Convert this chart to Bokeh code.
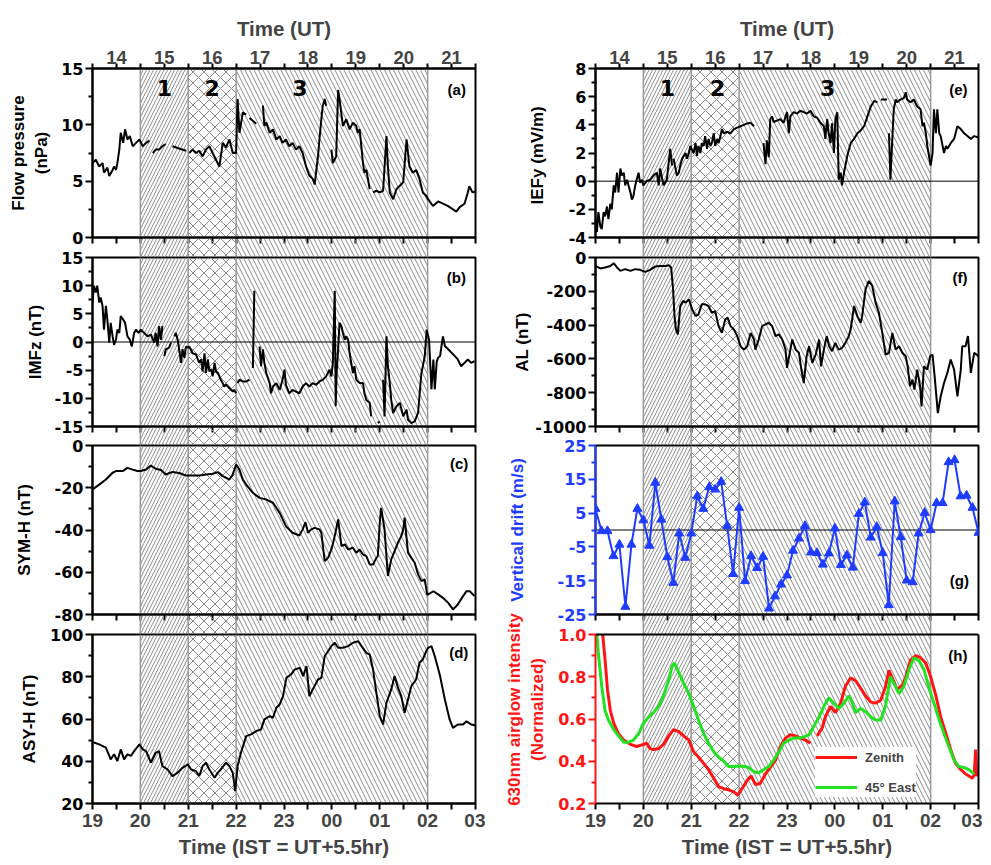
from bokeh.plotting import figure
from bokeh.models import (BoxAnnotation, Span, Label, FixedTicker, LinearAxis,
                          Range1d, Legend, LegendItem)
from bokeh.layouts import column, row
from bokeh.embed import file_html
from bokeh.resources import INLINE

nan = float("nan")
FONT = "Liberation Sans"
TFONT = "DejaVu Sans"
BLUE = "#1e3cff"
RED = "#ff1414"
GREEN = "#22e022"
HATCH = "#8a8a8a"
EDGE = "#999999"

# ---------------- axis ticks / labels ----------------
ist_ticks = [19, 20, 21, 22, 23, 24, 25, 26, 27]
ist_labels = ["19", "20", "21", "22", "23", "00", "01", "02", "03"]
ist_minor = [19.5, 20.5, 21.5, 22.5, 23.5, 24.5, 25.5, 26.5]
ut_ticks = [19.5, 20.5, 21.5, 22.5, 23.5, 24.5, 25.5, 26.5]
ut_labels = ["14", "15", "16", "17", "18", "19", "20", "21"]
h_ticks = [0.2, 0.4, 0.6, 0.8, 1.0]
h_labels = ["0.2", "0.4", "0.6", "0.8", "1.0"]

# shaded intervals (IST hours)
region_start = [20, 21, 22]
region_end = [21, 22, 26]
region_name = ["1", "2", "3"]
region_hatch = ["/", "x", "\\"]
region_scale = [7, 11, 9]
region_lines = [20, 21, 22, 26]

# ---------------- data (IST decimal hours, >24 after midnight) ----------------
pdyn = [(19.00,6.6),(19.07,6.9),(19.14,6.3),(19.21,6.6),(19.24,5.75),(19.31,6.2),(19.35,5.45),(19.42,6.0),
        (19.45,6.3),(19.49,6.0),(19.52,6.6),(19.56,7.8),(19.59,9.3),(19.64,8.4),(19.68,9.6),(19.73,8.7),
        (19.78,9.0),(19.84,8.1),(19.91,8.4),(19.98,8.7),(20.05,8.1),(20.12,8.4),(20.19,8.6),(20.22,nan),
        (20.26,7.5),(20.32,7.8),(20.39,7.8),(20.46,8.1),(20.53,8.3),(20.60,nan),(20.67,8.1),(20.81,7.9),
        (20.95,7.7),(20.98,nan),(21.02,7.5),(21.09,7.8),(21.16,7.5),(21.23,7.7),(21.30,7.2),(21.37,7.8),
        (21.44,8.1),(21.51,7.5),(21.58,6.9),(21.65,6.3),(21.68,7.2),(21.72,8.4),(21.79,8.0),(21.86,8.7),
        (21.93,7.5),(22.00,7.5),(22.03,12.3),(22.07,9.3),(22.14,11.1),(22.21,10.9),(22.24,nan),(22.28,10.6),
        (22.42,10.1),(22.49,nan),(22.56,11.7),(22.59,9.9),(22.63,10.2),(22.70,9.3),(22.77,9.6),(22.84,8.7),
        (22.91,9.0),(22.97,8.4),(23.04,8.7),(23.11,8.1),(23.18,8.4),(23.25,7.8),(23.32,8.1),(23.39,7.5),
        (23.46,6.3),(23.53,5.5),(23.60,5.2),(23.64,4.7),(23.67,5.75),(23.71,7.2),(23.74,8.7),(23.78,10.5),
        (23.81,11.7),(23.85,12.3),(23.88,11.7),(23.93,nan),(23.99,7.8),(24.02,6.6),(24.09,7.2),(24.13,13.1),
        (24.16,12.3),(24.23,9.9),(24.30,10.5),(24.37,9.6),(24.44,10.2),(24.51,9.9),(24.54,9.3),(24.58,9.6),
        (24.65,6.6),(24.68,5.75),(24.72,6.0),(24.79,4.3),(24.82,nan),(24.86,4.0),(24.93,4.15),(25.00,4.0),
        (25.07,4.15),(25.14,9.0),(25.17,6.3),(25.21,4.0),(25.28,3.4),(25.35,4.3),(25.42,4.6),(25.49,4.9),
        (25.56,8.7),(25.59,7.5),(25.62,6.3),(25.69,5.75),(25.76,6.0),(25.83,5.2),(25.90,4.0),(25.97,3.7),
        (26.01,3.4),(26.11,2.8),(26.22,3.2),(26.32,3.0),(26.42,2.8),(26.53,2.5),(26.60,2.3),(26.67,2.7),
        (26.77,3.0),(26.84,4.0),(26.87,4.55),(26.94,4.0),(27.00,4.1)]

imfz = [(19.00,7.0),(19.03,10.0),(19.07,8.8),(19.10,10.0),(19.14,7.0),(19.17,7.9),(19.21,6.4),(19.24,2.2),
        (19.28,6.4),(19.31,4.0),(19.35,-0.1),(19.38,3.4),(19.42,1.0),(19.45,-0.5),(19.49,0.4),(19.52,2.2),
        (19.56,1.6),(19.59,4.6),(19.64,4.0),(19.68,3.4),(19.73,1.0),(19.78,0.4),(19.82,-0.8),(19.87,1.6),
        (19.91,2.2),(19.96,1.6),(20.01,2.2),(20.08,1.6),(20.15,1.0),(20.22,1.3),(20.29,-0.1),(20.32,1.6),
        (20.36,-0.8),(20.39,2.8),(20.43,0.4),(20.46,2.8),(20.48,nan),(20.50,-2.5),(20.53,-1.3),(20.60,-1.0),
        (20.64,-0.1),(20.67,nan),(20.71,1.0),(20.74,1.6),(20.78,0.4),(20.85,-3.7),(20.88,-1.3),(20.92,-2.8),
        (20.95,-0.8),(20.99,-1.0),(21.02,-0.8),(21.09,-2.0),(21.16,-2.2),(21.23,-3.7),(21.27,-3.1),(21.30,-5.2),
        (21.34,-2.0),(21.37,-5.5),(21.41,-3.1),(21.44,-5.2),(21.48,-4.9),(21.51,-6.1),(21.55,-3.7),(21.58,-5.2),
        (21.62,-5.5),(21.65,-6.1),(21.68,-6.7),(21.72,-7.3),(21.75,-7.9),(21.79,-7.6),(21.86,-8.2),(21.93,-8.8),
        (21.96,-8.5),(22.00,-9.1),(22.02,nan),(22.03,-7.3),(22.07,-6.7),(22.14,-7.0),(22.21,-7.0),(22.28,-6.7),
        (22.31,nan),(22.35,-4.6),(22.38,9.1),(22.40,nan),(22.49,-0.8),(22.52,-4.3),(22.56,-1.3),(22.59,-3.7),
        (22.63,-5.5),(22.70,-7.3),(22.73,-9.1),(22.77,-7.9),(22.84,-7.3),(22.91,-8.5),(22.97,-6.7),(23.01,-4.9),
        (23.04,-7.6),(23.11,-9.1),(23.18,-8.5),(23.25,-8.8),(23.32,-9.1),(23.39,-7.9),(23.46,-7.3),(23.53,-7.9),
        (23.60,-7.3),(23.67,-7.6),(23.74,-7.0),(23.81,-6.7),(23.88,-6.1),(23.95,-4.9),(23.99,-6.1),(24.02,-3.7),
        (24.06,9.1),(24.08,-11.4),(24.10,-5.5),(24.13,-1.3),(24.16,3.4),(24.20,2.8),(24.23,1.6),(24.27,0.4),
        (24.30,1.0),(24.34,0.4),(24.37,-2.0),(24.44,-5.5),(24.47,-4.3),(24.51,-6.7),(24.58,-7.3),(24.65,-7.3),
        (24.68,-9.1),(24.72,-10.3),(24.79,-10.8),(24.82,-13.2),(24.88,nan),(24.96,-14.4),(25.00,-14.1),
        (25.04,nan),(25.07,-6.7),(25.10,-13.2),(25.14,1.0),(25.17,-4.3),(25.21,-7.3),(25.24,-10.3),(25.28,-12.6),
        (25.35,-11.4),(25.42,-10.8),(25.49,-13.2),(25.56,-12.0),(25.59,-13.8),(25.66,-14.4),(25.73,-14.1),
        (25.80,-12.6),(25.87,-5.5),(25.90,-4.3),(25.94,-2.5),(25.98,2.2),(26.03,0.4),(26.08,-8.4),(26.12,-3.1),
        (26.15,-8.4),(26.19,-3.5),(26.22,-2.8),(26.26,-2.5),(26.29,-0.7),(26.32,1.0),(26.36,-0.7),(26.43,-1.3),
        (26.50,-1.9),(26.57,-2.5),(26.63,-3.1),(26.70,-4.3),(26.77,-3.7),(26.84,-3.1),(26.91,-3.7),(26.98,-3.4)]

symh = [(19.00,-20.8),(19.14,-18.5),(19.28,-16.1),(19.42,-12.9),(19.49,-12.1),(19.63,-12.1),(19.73,-10.6),
        (19.84,-11.4),(19.94,-12.1),(20.01,-12.1),(20.12,-11.4),(20.22,-9.5),(20.32,-11.0),(20.43,-11.6),
        (20.53,-13.7),(20.67,-12.5),(20.81,-13.0),(20.95,-14.2),(21.09,-14.2),(21.23,-14.2),(21.37,-13.7),
        (21.51,-13.4),(21.62,-12.6),(21.72,-14.5),(21.86,-16.1),(21.93,-13.7),(22.00,-9.0),(22.07,-11.4),
        (22.14,-16.1),(22.21,-18.5),(22.35,-22.4),(22.49,-24.8),(22.63,-25.6),(22.77,-27.1),(22.91,-31.9),
        (23.04,-38.2),(23.18,-41.3),(23.32,-42.6),(23.39,-39.7),(23.45,-36.3),(23.50,-41.3),(23.57,-39.7),
        (23.64,-39.0),(23.74,-39.7),(23.78,-41.3),(23.85,-54.7),(23.92,-53.2),(23.99,-49.2),(24.06,-42.9),
        (24.13,-35.0),(24.20,-47.6),(24.27,-46.8),(24.34,-49.2),(24.44,-48.4),(24.51,-50.8),(24.58,-49.2),
        (24.65,-51.6),(24.72,-52.4),(24.79,-56.3),(24.86,-56.3),(24.93,-53.2),(24.96,-52.4),(25.00,-36.6),
        (25.03,-29.5),(25.10,-39.7),(25.14,-52.4),(25.17,-61.8),(25.24,-53.9),(25.31,-50.0),(25.38,-46.0),
        (25.45,-42.9),(25.49,-39.7),(25.52,-34.2),(25.59,-50.8),(25.66,-53.2),(25.73,-55.5),(25.80,-61.0),
        (25.87,-64.2),(25.94,-63.4),(25.99,-70.5),(26.01,-70.5),(26.12,-69.0),(26.22,-70.5),(26.32,-72.1),
        (26.43,-74.5),(26.53,-77.6),(26.63,-75.3),(26.74,-71.3),(26.81,-69.0),(26.88,-69.0),(26.98,-71.3)]

asyh = [(19.00,49.1),(19.14,48.0),(19.28,46.4),(19.38,40.9),(19.45,43.3),(19.52,40.1),(19.59,45.6),
        (19.66,40.9),(19.73,43.3),(19.80,42.5),(19.87,44.8),(19.98,48.0),(20.05,45.6),(20.12,44.8),
        (20.22,39.3),(20.32,44.0),(20.39,44.8),(20.46,37.7),(20.57,36.1),(20.67,33.0),(20.78,34.6),
        (20.88,36.9),(20.99,38.5),(21.06,36.1),(21.16,35.3),(21.23,33.0),(21.30,37.7),(21.37,39.3),
        (21.44,36.1),(21.55,32.2),(21.62,34.6),(21.68,36.1),(21.79,39.3),(21.86,37.7),(21.93,34.5),
        (21.98,25.9),(22.03,37.7),(22.10,44.0),(22.21,51.9),(22.31,52.7),(22.42,54.3),(22.52,55.0),
        (22.59,59.8),(22.70,61.4),(22.77,60.6),(22.84,65.3),(22.91,66.9),(22.98,70.8),(23.05,79.5),
        (23.15,81.1),(23.22,83.4),(23.33,84.2),(23.40,80.3),(23.47,85.0),(23.53,70.8),(23.60,74.0),
        (23.71,78.7),(23.78,79.5),(23.85,89.7),(23.92,92.1),(23.99,94.5),(24.06,96.1),(24.13,93.7),
        (24.23,93.7),(24.34,94.5),(24.44,96.1),(24.55,96.8),(24.62,94.5),(24.72,91.3),(24.79,90.5),
        (24.86,83.4),(24.93,72.4),(25.00,61.4),(25.07,57.4),(25.14,67.7),(25.24,74.0),(25.31,80.3),
        (25.38,74.8),(25.45,70.8),(25.52,62.9),(25.59,69.2),(25.66,75.6),(25.76,78.7),(25.83,86.6),
        (25.90,88.2),(25.97,92.1),(26.01,93.7),(26.08,94.5),(26.15,89.7),(26.26,80.3),(26.36,69.2),
        (26.46,59.8),(26.53,55.8),(26.63,57.4),(26.74,57.4),(26.81,58.9),(26.91,57.4),(27.00,56.9)]

iefy = [(19.00,-2.7),(19.03,-3.6),(19.06,-2.2),(19.10,-3.2),(19.13,-3.4),(19.17,-2.2),(19.20,-2.5),(19.24,-1.8),
        (19.27,-2.7),(19.31,-1.6),(19.34,-2.0),(19.38,-0.3),(19.41,-0.8),(19.45,0.6),(19.48,-0.8),(19.52,0.9),
        (19.55,0.4),(19.59,0.6),(19.62,-0.3),(19.66,0.1),(19.69,-0.3),(19.73,-0.8),(19.76,-1.3),(19.79,-1.1),
        (19.83,-0.3),(19.86,0.1),(19.90,0.6),(19.93,-0.1),(19.97,0.1),(20.00,-0.3),(20.07,0.0),(20.14,0.1),
        (20.21,0.4),(20.28,0.6),(20.32,-0.3),(20.35,0.9),(20.42,-0.3),(20.49,0.1),(20.56,2.3),(20.60,1.1),
        (20.61,nan),(20.63,1.6),(20.70,0.4),(20.74,0.6),(20.77,1.1),(20.81,1.6),(20.88,2.0),(20.91,1.6),
        (20.95,2.0),(20.98,2.5),(21.05,2.0),(21.09,2.7),(21.12,1.8),(21.15,2.5),(21.19,2.0),(21.22,2.7),
        (21.26,2.5),(21.29,3.2),(21.33,2.3),(21.36,3.0),(21.40,2.5),(21.43,2.7),(21.47,3.4),(21.50,2.5),
        (21.54,3.0),(21.57,2.7),(21.61,3.2),(21.64,3.7),(21.68,3.4),(21.75,3.5),(21.82,3.4),(21.89,3.7),
        (21.96,3.8),(22.03,3.9),(22.10,4.0),(22.17,4.1),(22.24,4.15),(22.31,3.9),(22.35,nan),(22.51,2.7),
        (22.55,1.2),(22.58,2.9),(22.62,1.7),(22.65,4.4),(22.69,4.6),(22.72,4.2),(22.79,4.3),(22.86,4.4),
        (22.93,4.15),(23.00,4.9),(23.04,3.4),(23.07,4.6),(23.14,4.9),(23.21,4.8),(23.28,5.0),(23.35,4.9),
        (23.42,4.8),(23.49,5.0),(23.56,4.6),(23.63,4.5),(23.70,4.15),(23.77,3.9),(23.80,3.0),(23.84,4.4),
        (23.87,3.4),(23.91,2.7),(23.94,4.1),(23.98,2.0),(24.01,4.4),(24.05,4.9),(24.08,0.1),(24.12,0.6),
        (24.15,-0.3),(24.19,0.6),(24.22,1.1),(24.26,1.8),(24.29,2.2),(24.33,2.7),(24.40,3.0),(24.47,3.4),
        (24.54,3.6),(24.61,3.9),(24.68,4.6),(24.75,5.3),(24.82,5.7),(24.89,5.6),(24.92,nan),(24.96,5.8),
        (25.09,5.8),(25.11,nan),(25.13,3.4),(25.16,0.1),(25.20,3.0),(25.23,5.1),(25.27,5.8),(25.30,5.6),
        (25.37,5.8),(25.44,5.9),(25.48,6.3),(25.51,5.8),(25.58,5.6),(25.65,5.8),(25.72,5.3),(25.79,5.1),
        (25.83,3.9),(25.86,4.15),(25.90,3.4),(25.93,2.5),(26.00,1.1),(26.04,2.0),(26.07,5.1),(26.11,3.4),
        (26.14,5.1),(26.18,3.4),(26.21,3.2),(26.28,2.0),(26.32,2.5),(26.35,2.3),(26.42,2.7),(26.49,3.0),
        (26.56,3.9),(26.63,3.7),(26.70,3.4),(26.77,3.2),(26.84,3.0),(26.91,3.2),(27.00,3.1)]

al = [(19.00,-50),(19.10,-65),(19.20,-59),(19.31,-50),(19.38,-34),(19.45,-59),(19.52,-79),(19.62,-69),
      (19.73,-79),(19.83,-69),(19.93,-73),(20.04,-85),(20.14,-73),(20.25,-53),(20.35,-50),(20.46,-50),
      (20.53,-46),(20.58,-59),(20.62,-188),(20.65,-347),(20.68,-426),(20.72,-455),(20.74,-386),(20.77,-287),
      (20.83,-257),(20.88,-267),(20.95,-248),(21.02,-307),(21.09,-347),(21.15,-337),(21.22,-277),(21.29,-277),
      (21.36,-287),(21.43,-327),(21.50,-317),(21.57,-406),(21.64,-446),(21.71,-366),(21.76,-356),(21.82,-406),
      (21.89,-426),(21.96,-465),(22.03,-525),(22.10,-545),(22.17,-525),(22.24,-446),(22.31,-485),(22.34,-545),
      (22.41,-485),(22.48,-406),(22.55,-396),(22.62,-386),(22.69,-406),(22.76,-465),(22.83,-455),(22.90,-485),
      (22.97,-545),(23.00,-653),(23.07,-545),(23.11,-485),(23.18,-545),(23.25,-564),(23.30,-663),(23.35,-743),
      (23.41,-584),(23.46,-525),(23.53,-624),(23.60,-574),(23.67,-485),(23.71,-644),(23.77,-545),(23.83,-465),
      (23.88,-525),(23.94,-554),(24.01,-505),(24.08,-545),(24.15,-535),(24.22,-505),(24.29,-465),(24.33,-426),
      (24.40,-287),(24.47,-347),(24.54,-386),(24.57,-347),(24.64,-188),(24.71,-139),(24.78,-168),(24.85,-267),
      (24.92,-327),(24.99,-446),(25.06,-574),(25.13,-564),(25.20,-446),(25.27,-545),(25.34,-525),(25.41,-564),
      (25.48,-584),(25.52,-644),(25.57,-762),(25.62,-723),(25.66,-782),(25.72,-663),(25.78,-762),(25.81,-881),
      (25.86,-644),(25.93,-663),(25.99,-584),(26.04,-574),(26.09,-723),(26.15,-921),(26.21,-822),(26.28,-743),
      (26.35,-683),(26.42,-604),(26.49,-663),(26.56,-822),(26.63,-663),(26.66,-525),(26.73,-525),(26.78,-465),
      (26.84,-683),(26.91,-564),(27.00,-584)]

drift_t = [19.000, 19.125, 19.250, 19.375, 19.500, 19.625, 19.750, 19.875, 20.000, 20.125, 20.250,
           20.375, 20.500, 20.625, 20.750, 20.875, 21.000, 21.125, 21.250, 21.375, 21.500, 21.625,
           21.750, 21.875, 22.000, 22.125, 22.250, 22.375, 22.500, 22.625, 22.750, 22.875, 23.000,
           23.125, 23.250, 23.375, 23.500, 23.625, 23.750, 23.875, 24.000, 24.125, 24.250, 24.375,
           24.500, 24.625, 24.750, 24.875, 25.000, 25.125, 25.250, 25.375, 25.500, 25.625, 25.750,
           25.875, 26.000, 26.125, 26.250, 26.375, 26.500, 26.625, 26.750, 26.875, 27.000]
drift_v = [6.3, -0.3, -0.3, -7.7, -4.3, -22.7, -4.3, 6.3, 2.9, -4.6, 14.0, 3.1, -8.0, -15.6, -1.0,
           -8.2, -1.0, 10.0, 6.3, 12.7, 12.0, 14.3, 1.2, -13.0, 6.6, -15.1, -7.7, -11.2, -7.9, -23.2,
           -19.6, -16.1, -13.4, -6.1, -2.5, 1.2, -6.6, -6.8, -10.2, -6.9, 0.5, -10.3, -7.5, -11.1, 4.8,
           8.2, -2.2, 0.9, -6.8, -22.2, 8.5, -2.1, -14.9, -15.4, -1.0, 5.1, 0.0, 8.0, 8.0, 20.1, 20.7,
           10.0, 10.2, 6.6, -0.8]

zenith = [(19.15,1.0),(19.20,0.88),(19.25,0.74),(19.31,0.64),(19.38,0.58),(19.48,0.53),(19.59,0.50),
          (19.73,0.48),(19.86,0.47),(20.00,0.48),(20.07,0.485),(20.14,0.46),(20.21,0.455),(20.32,0.46),
          (20.42,0.48),(20.53,0.52),(20.63,0.55),(20.74,0.54),(20.84,0.52),(20.95,0.50),(21.05,0.445),
          (21.15,0.42),(21.26,0.39),(21.36,0.36),(21.47,0.32),(21.57,0.28),(21.68,0.27),(21.78,0.265),
          (21.89,0.255),(21.97,0.24),(22.06,0.27),(22.17,0.31),(22.25,0.33),(22.34,0.29),(22.44,0.295),
          (22.55,0.34),(22.65,0.37),(22.76,0.405),(22.86,0.47),(22.97,0.51),(23.07,0.525),(23.18,0.52),
          (23.28,0.51),(23.39,0.50),(23.49,0.485),(23.56,nan),(23.63,0.52),(23.74,0.56),(23.80,0.61),
          (23.91,0.66),(24.01,0.63),(24.12,0.675),(24.22,0.755),(24.33,0.795),(24.44,0.78),(24.54,0.745),
          (24.64,0.71),(24.75,0.68),(24.85,0.675),(24.96,0.69),(25.06,0.755),(25.13,0.83),(25.20,0.795),
          (25.30,0.74),(25.41,0.76),(25.48,0.80),(25.58,0.88),(25.69,0.90),(25.79,0.89),(25.90,0.865),
          (26.00,0.80),(26.11,0.71),(26.21,0.61),(26.32,0.53),(26.42,0.455),(26.52,0.39),(26.63,0.36),
          (26.73,0.34),(26.80,0.33),(26.87,0.32),(26.91,0.335),(26.94,0.455),(26.96,0.33),(27.00,0.345)]

east45 = [(19.03,1.0),(19.06,0.91),(19.13,0.755),(19.20,0.64),(19.27,0.595),(19.38,0.55),(19.48,0.52),
          (19.59,0.49),(19.69,0.49),(19.79,0.50),(19.90,0.53),(20.00,0.58),(20.11,0.61),(20.21,0.63),
          (20.32,0.66),(20.42,0.71),(20.53,0.785),(20.60,0.85),(20.65,0.865),(20.74,0.82),(20.84,0.77),
          (20.95,0.72),(21.05,0.66),(21.15,0.595),(21.26,0.53),(21.36,0.485),(21.47,0.445),(21.57,0.42),
          (21.68,0.40),(21.78,0.375),(21.89,0.375),(21.99,0.378),(22.10,0.375),(22.20,0.37),(22.31,0.35),
          (22.41,0.345),(22.51,0.36),(22.62,0.375),(22.72,0.405),(22.83,0.445),(22.93,0.485),(23.04,0.50),
          (23.14,0.51),(23.25,0.51),(23.35,0.515),(23.46,0.525),(23.56,0.565),(23.67,0.61),(23.77,0.66),
          (23.87,0.70),(23.98,0.675),(24.08,0.65),(24.19,0.675),(24.29,0.71),(24.36,0.68),(24.43,0.63),
          (24.54,0.65),(24.64,0.635),(24.75,0.61),(24.85,0.595),(24.96,0.595),(25.06,0.665),(25.16,0.80),
          (25.23,0.77),(25.34,0.72),(25.44,0.755),(25.55,0.835),(25.65,0.89),(25.76,0.875),(25.86,0.835),
          (25.97,0.745),(26.07,0.675),(26.18,0.595),(26.28,0.53),(26.38,0.47),(26.49,0.405),(26.59,0.375),
          (26.70,0.37),(26.80,0.36),(26.91,0.34)]


def split(pairs):
    return [a for a, b in pairs], [b for a, b in pairs]


# ---------------- geometry ----------------
FW, FH = 383, 169
ML_L, MR_L = 92, 10
ML_R, MR_R = 110, 4
BT, BB = 12, 15          # transparent borders that overlap the gaps
TOP_B, BOT_B = 68, 60
XR = Range1d(19, 27)


def add_regions(p):
    for s, e, hp, sc in zip(region_start, region_end, region_hatch, region_scale):
        p.add_layout(BoxAnnotation(left=s, right=e, fill_alpha=0, line_alpha=0,
                                   hatch_pattern=hp, hatch_color=HATCH, hatch_scale=sc,
                                   hatch_weight=1, hatch_alpha=1, level="underlay"))
    for loc in region_lines:
        p.add_layout(Span(location=loc, dimension="height", line_color=EDGE,
                          line_width=1.5, level="underlay"))


def tick_style(ax, color="black"):
    ax.axis_line_width = 2
    ax.axis_line_color = color
    ax.major_tick_line_width = 2
    ax.minor_tick_line_width = 2
    ax.major_tick_line_color = color
    ax.minor_tick_line_color = color


def style_x(ax, kind):
    tick_style(ax)
    ax.major_tick_out = 6
    ax.major_tick_in = 0
    ax.minor_tick_out = 6
    ax.minor_tick_in = 0
    if kind == "plain":
        ax.ticker = FixedTicker(ticks=ist_ticks, minor_ticks=ist_minor)
        ax.major_label_text_font_size = "0px"
        ax.major_label_text_color = None
        ax.major_label_standoff = 0
        return
    ax.major_label_text_font = FONT
    ax.major_label_text_font_style = "bold"
    ax.axis_label_text_font = FONT
    ax.axis_label_text_font_style = "bold"
    ax.axis_label_text_font_size = "20.5px"
    if kind == "ut":
        ax.ticker = FixedTicker(ticks=ut_ticks, minor_ticks=ist_ticks)
        ax.major_label_overrides = dict(zip(ut_ticks, ut_labels))
        ax.axis_label = "Time (UT)"
        ax.major_label_text_font_size = "18.5px"
        ax.major_tick_out = 5
        ax.minor_tick_out = 5
        ax.major_label_standoff = 0
        ax.axis_label_standoff = 8
    else:
        ax.ticker = FixedTicker(ticks=ist_ticks, minor_ticks=ist_minor)
        ax.major_label_overrides = dict(zip(ist_ticks, ist_labels))
        ax.axis_label = "Time (IST = UT+5.5hr)"
        ax.major_label_text_font_size = "19px"
        ax.major_label_standoff = 4
        ax.axis_label_standoff = 5


def style_y(ax, ticks, minor, label, standoff, color="black", labels=None):
    tick_style(ax, color)
    ax.ticker = FixedTicker(ticks=ticks, minor_ticks=minor)
    if labels is None:
        labels = ["%g" % t for t in ticks]
    ax.major_label_overrides = dict(zip(ticks, labels))
    ax.axis_label = label
    ax.axis_label_text_font = FONT
    ax.axis_label_text_font_style = "bold"
    ax.axis_label_text_font_size = "17px"
    ax.axis_label_text_color = color
    ax.axis_label_standoff = standoff
    ax.major_label_text_font = TFONT
    ax.major_label_text_font_style = "bold"
    ax.major_label_text_font_size = "16px"
    ax.major_label_text_color = color
    ax.major_label_standoff = 2
    ax.major_tick_out = 7
    ax.major_tick_in = 0
    ax.minor_tick_out = 4
    ax.minor_tick_in = 0


def make_fig(ml, mr, yr, xloc, fh=FH, top=BT, bottom=BB, margin=(0, 0, 0, 0)):
    p = figure(frame_width=FW, frame_height=fh, x_range=XR, y_range=yr,
               x_axis_location=xloc, y_axis_location="left",
               min_border_left=ml, min_border_right=mr,
               min_border_top=top, min_border_bottom=bottom, margin=margin,
               toolbar_location=None, tools="", output_backend="svg")
    p.grid.visible = False
    p.outline_line_color = "black"
    p.outline_line_width = 2
    p.outline_line_alpha = 1
    p.background_fill_color = None
    p.border_fill_color = None
    add_regions(p)
    return p


def spacer(ml, mr, h):
    s = figure(width=ml + FW + mr, height=h, x_range=XR, y_range=Range1d(0, 1),
               x_axis_location=None, y_axis_location=None,
               min_border_left=ml, min_border_right=mr, min_border_top=0, min_border_bottom=0,
               toolbar_location=None, tools="", output_backend="svg")
    s.grid.visible = False
    s.outline_line_color = None
    s.background_fill_color = None
    s.border_fill_color = None
    add_regions(s)
    return s


def plabel(p, x, y, text):
    p.add_layout(Label(x=x, y=y, text=text, text_font=FONT, text_font_style="bold",
                       text_font_size="15px", text_color="black",
                       text_align="right", text_baseline="top"))


def region_numbers(p, xs, y):
    for x, t in zip(xs, region_name):
        p.add_layout(Label(x=x, y=y, text=t, text_font=TFONT, text_font_style="bold",
                           text_font_size="22px", text_color="black",
                           text_align="center", text_baseline="top"))


def zero_line(p):
    p.add_layout(Span(location=0, dimension="width", line_color="black", line_width=1,
                      level="underlay"))


M_TOP = (0, 0, -(BB - 1), 0)
M_MID = (-(BT - 1), 0, -(BB - 1), 0)
M_BOT = (-(BT - 1), 0, 0, 0)

# ================= left column =================
fa = make_fig(ML_L, MR_L, Range1d(0, 15), "above", top=TOP_B, margin=M_TOP)
style_x(fa.xaxis[0], "ut")
fa.add_layout(LinearAxis(), "below")
style_x(fa.below[0], "plain")
style_y(fa.yaxis[0], [0, 5, 10, 15], [2.5, 7.5, 12.5], "Flow pressure\n(nPa)", 7)
t, v = split(pdyn)
fa.line(t, v, line_color="black", line_width=2)
region_numbers(fa, [20.5, 21.5, 23.33], 14.0)
plabel(fa, 26.8, 13.9, "(a)")

fb = make_fig(ML_L, MR_L, Range1d(-15, 15), "below", margin=M_MID)
style_x(fb.xaxis[0], "plain")
style_y(fb.yaxis[0], [-15, -10, -5, 0, 5, 10, 15], [-12.5, -7.5, -2.5, 2.5, 7.5, 12.5], "IMFz (nT)", 7)
zero_line(fb)
t, v = split(imfz)
fb.line(t, v, line_color="black", line_width=2)
plabel(fb, 26.8, 12.9, "(b)")

fc = make_fig(ML_L, MR_L, Range1d(-80, 0), "below", margin=M_MID)
style_x(fc.xaxis[0], "plain")
style_y(fc.yaxis[0], [-80, -60, -40, -20, 0], [-70, -50, -30, -10], "SYM-H (nT)", 18)
t, v = split(symh)
fc.line(t, v, line_color="black", line_width=2)
plabel(fc, 26.85, -4.3, "(c)")

fd = make_fig(ML_L, MR_L, Range1d(20, 100), "below", bottom=BOT_B, margin=M_BOT)
style_x(fd.xaxis[0], "ist")
style_y(fd.yaxis[0], [20, 40, 60, 80, 100], [30, 50, 70, 90], "ASY-H (nT)", 8)
t, v = split(asyh)
fd.line(t, v, line_color="black", line_width=2)
plabel(fd, 26.85, 95.3, "(d)")

left = column(fa, spacer(ML_L, MR_L, 18), fb, spacer(ML_L, MR_L, 17), fc,
              spacer(ML_L, MR_L, 18), fd)

# ================= right column =================
fe = make_fig(ML_R, MR_R, Range1d(-4, 8), "above", top=TOP_B, margin=M_TOP)
style_x(fe.xaxis[0], "ut")
fe.add_layout(LinearAxis(), "below")
style_x(fe.below[0], "plain")
style_y(fe.yaxis[0], [-4, -2, 0, 2, 4, 6, 8], [-3, -1, 1, 3, 5, 7], "IEFy  (mV/m)", 19)
zero_line(fe)
t, v = split(iefy)
fe.line(t, v, line_color="black", line_width=2)
region_numbers(fe, [20.5, 21.55, 23.85], 7.2)
plabel(fe, 26.77, 7.08, "(e)")

ff = make_fig(ML_R, MR_R, Range1d(-1000, 0), "below", margin=M_MID)
style_x(ff.xaxis[0], "plain")
style_y(ff.yaxis[0], [-1000, -800, -600, -400, -200, 0], [-900, -700, -500, -300, -100], "AL (nT)", 0)
t, v = split(al)
ff.line(t, v, line_color="black", line_width=2)
plabel(ff, 26.77, -71, "(f)")

fg = make_fig(ML_R, MR_R, Range1d(-25, 25), "below", margin=M_MID)
style_x(fg.xaxis[0], "plain")
style_y(fg.yaxis[0], [-25, -15, -5, 5, 15, 25], [-20, -10, 0, 10, 20], "Vertical drift (m/s)", 28, BLUE)
zero_line(fg)
fg.line(drift_t, drift_v, line_color=BLUE, line_width=2)
fg.scatter(drift_t, drift_v, marker="triangle", size=9, fill_color=BLUE, line_color=BLUE)
plabel(fg, 26.8, -12.3, "(g)")

# panel (h): its frame also covers the gap above it
GAP_H = 19
H_TOP = 1.0 + GAP_H / FH * 0.8
fh = make_fig(ML_R, MR_R, Range1d(0.2, H_TOP), "below", fh=FH + GAP_H, top=5, bottom=BOT_B,
              margin=(-5, 0, 0, 0))
fh.outline_line_color = None
style_x(fh.xaxis[0], "ist")
style_y(fh.yaxis[0], h_ticks, [0.3, 0.5, 0.7, 0.9],
        "630nm airglow intensity\n(Normalized)", 8, RED, labels=h_labels)
fh.yaxis[0].bounds = (0.2, 1.0)
rax = LinearAxis(bounds=(0.2, 1.0), ticker=FixedTicker(ticks=[]))
rax.axis_line_width = 2
rax.major_tick_out = 0
rax.minor_tick_out = 0
rax.major_label_text_font_size = "0px"
rax.major_label_text_color = None
rax.major_label_standoff = 0
fh.add_layout(rax, "right")
fh.add_layout(Span(location=1.0, dimension="width", line_color="black", line_width=2))
t, v = split(zenith)
r_red = fh.line(t, v, line_color=RED, line_width=3)
t, v = split(east45)
r_green = fh.line(t, v, line_color=GREEN, line_width=3)
leg = Legend(items=[LegendItem(label="Zenith", renderers=[r_red]),
                    LegendItem(label="45° East", renderers=[r_green])],
             location=(220, 6), background_fill_color="white", background_fill_alpha=1,
             border_line_color=None, label_text_font=FONT, label_text_font_style="bold",
             label_text_font_size="13px", glyph_width=42, glyph_height=20, spacing=10,
             padding=4, margin=0, label_standoff=8)
fh.add_layout(leg)
plabel(fh, 26.77, 0.943, "(h)")

right = column(fe, spacer(ML_R, MR_R, 18), ff, spacer(ML_R, MR_R, 17), fg, fh)

layout = row(left, right)
open("out.html", "w").write(file_html(layout, INLINE))
